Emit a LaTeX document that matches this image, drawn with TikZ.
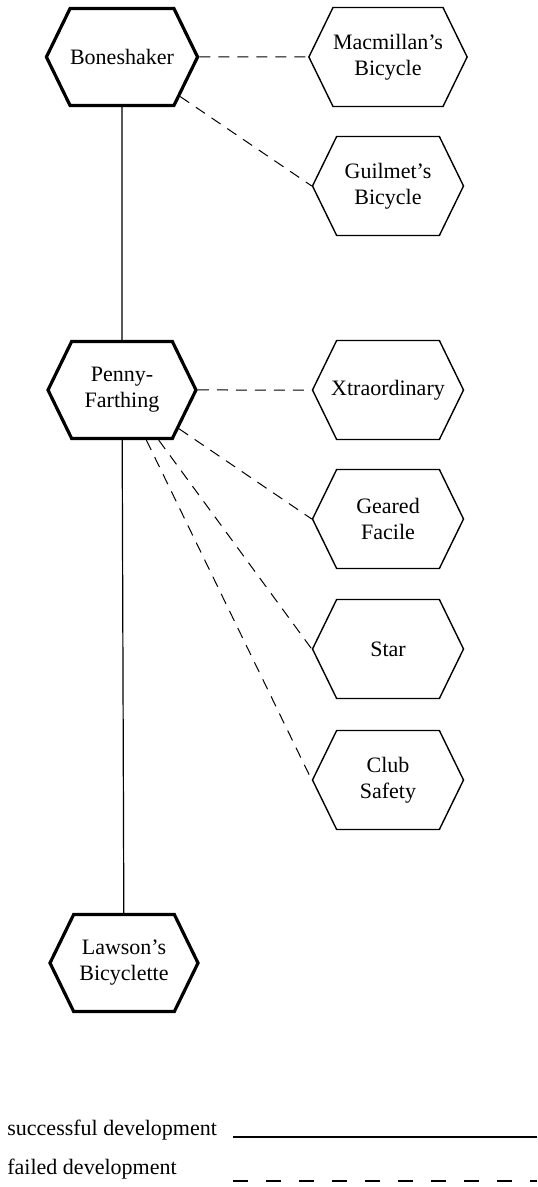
\documentclass[tikz,border=0pt]{standalone}
\usepackage{fontspec}
\setmainfont{Liberation Serif}
\usetikzlibrary{shapes.symbols}

\begin{document}
\begin{tikzpicture}[x=0.5pt,y=-0.5pt]
\tikzset{hexa/.style={draw, signal, signal to=east and west, signal pointer angle=128,
    inner sep=0pt, align=center, font=\fontsize{11}{13}\selectfont},
  mainhex/.style={hexa, line width=1.6pt, minimum width=74pt, minimum height=48.5pt},
  sidehex/.style={hexa, line width=0.7pt, minimum width=75.5pt, minimum height=49.5pt},
  success/.style={line width=0.6pt},
  failed/.style={line width=0.5pt, dash pattern=on 5.5pt off 4pt},
  legend/.style={anchor=base west, inner sep=0pt, font=\fontsize{11}{13}\selectfont}}
\useasboundingbox (0,0) rectangle (537,1187);
% main line
\node[mainhex] (Bone) at (122,57) {Boneshaker};
\node[mainhex] (PF) at (122,390) {Penny-\\Farthing};
\node[mainhex] (Lawson) at (124,963) {Lawson's\\Bicyclette};
% side branches
\node[sidehex] (Mac) at (388,57) {Macmillan's\\Bicycle};
\node[sidehex] (Guil) at (388,186) {Guilmet's\\Bicycle};
\node[sidehex] (Xtra) at (388,390) {\makebox[0pt]{Xtraordinary}};
\node[sidehex] (Geared) at (388,519) {Geared\\Facile};
\node[sidehex] (Star) at (388,649) {Star};
\node[sidehex] (Club) at (388,780) {Club\\Safety};
\draw[success] (Bone) -- (PF);
\draw[success] (PF) -- (Lawson);
\draw[failed] (Bone) -- (Mac);
\draw[failed] (Bone) -- (Guil.west);
\draw[failed] (PF) -- (Xtra);
\draw[failed] (PF) -- (Geared.west);
\draw[failed] (PF) -- (Star.west);
\draw[failed] (PF) -- (Club.west);
% key
\node[legend] (succ) at (7,1135) {successful development};
\node[legend] (fail) at (7,1174) {failed development};
\coordinate (succA) at (233,1137);
\coordinate (succB) at (537,1137);
\coordinate (failA) at (233,1181);
\coordinate (failB) at (537,1181);
\draw[success, line width=0.8pt] (succA) -- (succB);
\draw[line width=0.8pt, dash pattern=on 7.5pt off 9pt] (failA) -- (failB);
\end{tikzpicture}
\end{document}
